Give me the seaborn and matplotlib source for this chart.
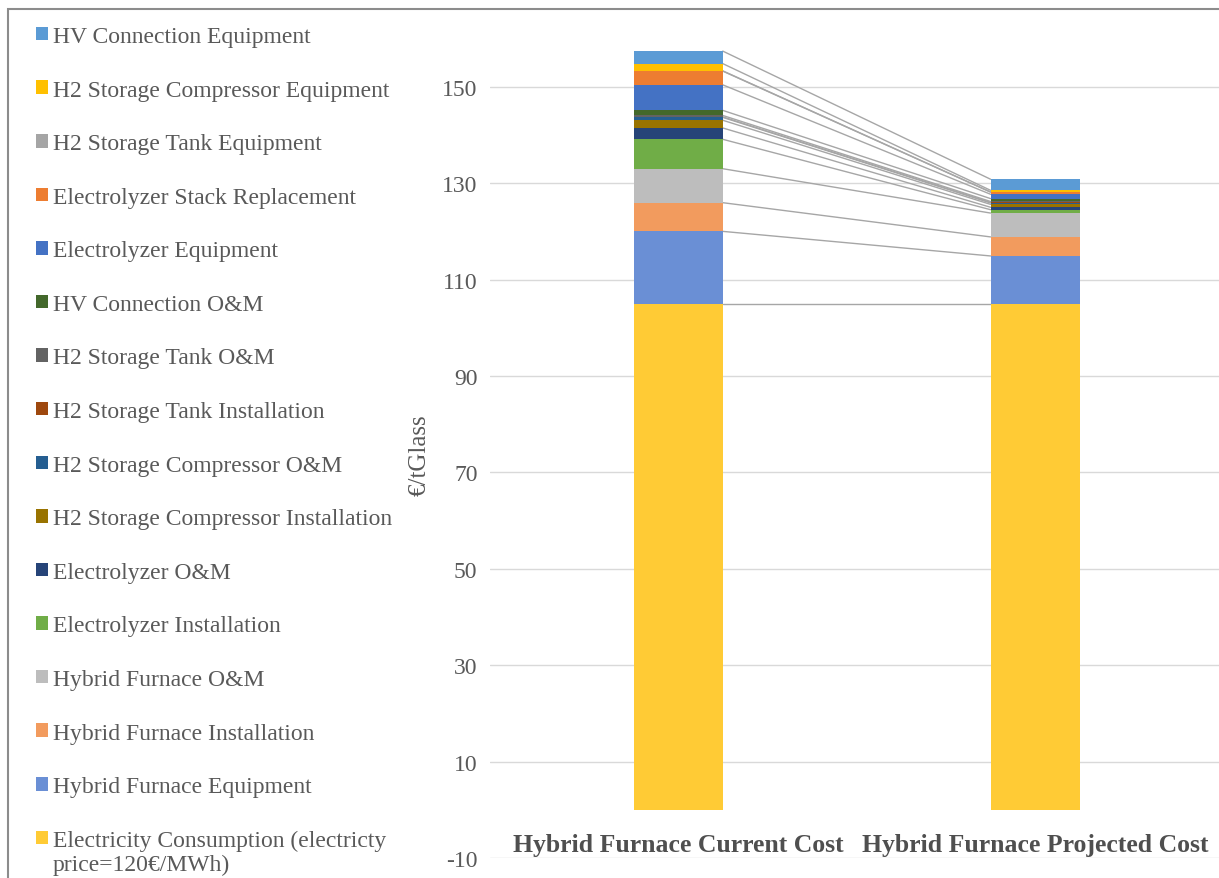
import matplotlib
matplotlib.use('Agg')
import matplotlib.pyplot as plt
from matplotlib.patches import Patch, Rectangle
import seaborn as sns
import numpy as np
import pandas as pd

# categories on the x axis
categories = ['Hybrid Furnace Current Cost', 'Hybrid Furnace Projected Cost']

# cost components, bottom of the stack first (€/tGlass)
electricity = [105.0, 105.0]
hf_equipment = [15.0, 9.9]
hf_installation = [5.95, 3.95]
hf_om = [7.05, 4.95]
el_installation = [6.1, 0.7]
el_om = [2.35, 0.5]
comp_installation = [1.6, 0.6]
comp_om = [0.6, 0.3]
tank_installation = [0.1, 0.1]
tank_om = [0.3, 0.2]
hv_om = [1.05, 0.6]
el_equipment = [5.3, 0.9]
stack_replacement = [2.85, 0.45]
tank_equipment = [0.05, 0.02]
comp_equipment = [1.5, 0.35]
hv_equipment = [2.6, 2.3]

series_names = [
    'Electricity Consumption (electricty\nprice=120€/MWh)',
    'Hybrid Furnace Equipment',
    'Hybrid Furnace Installation',
    'Hybrid Furnace O&M',
    'Electrolyzer Installation',
    'Electrolyzer O&M',
    'H2 Storage Compressor Installation',
    'H2 Storage Compressor O&M',
    'H2 Storage Tank Installation',
    'H2 Storage Tank O&M',
    'HV Connection O&M',
    'Electrolyzer Equipment',
    'Electrolyzer Stack Replacement',
    'H2 Storage Tank Equipment',
    'H2 Storage Compressor Equipment',
    'HV Connection Equipment',
]
series_values = [electricity, hf_equipment, hf_installation, hf_om, el_installation,
                 el_om, comp_installation, comp_om, tank_installation, tank_om, hv_om,
                 el_equipment, stack_replacement, tank_equipment, comp_equipment, hv_equipment]
series_colors = ['#FFCB35', '#6A8FD5', '#F29B5E', '#BDBDBD', '#70AD47',
                 '#264478', '#997300', '#255E91', '#9E480E', '#636363', '#43682B',
                 '#4472C4', '#ED7D31', '#A5A5A5', '#FFC000', '#5B9BD5']

yticks = [-10, 10, 30, 50, 70, 90, 110, 130, 150]

sns.set_theme(style='white')
plt.rcParams['font.family'] = ['Liberation Serif', 'DejaVu Serif']
plt.rcParams['axes.unicode_minus'] = False
text_color = '#595959'

fig = plt.figure(figsize=(12.19, 8.79), dpi=100)
ax = fig.add_axes([490 / 1219, 20 / 879, 729 / 1219, 858 / 879])

bar_w = 0.25
cum = np.cumsum(np.array(series_values), axis=0)

# stacked bars: draw cumulative totals from the top down so each layer covers the one above
for i in range(len(series_names) - 1, -1, -1):
    df = pd.DataFrame({'cat': categories, 'val': cum[i]})
    sns.barplot(data=df, x='cat', y='val', color=series_colors[i], width=bar_w,
                saturation=1, linewidth=0, ax=ax, zorder=3)

# series lines joining the segment tops
for i in range(len(series_names)):
    ax.plot([bar_w / 2, 1 - bar_w / 2], [cum[i][0], cum[i][1]],
            color='#A6A6A6', lw=1, zorder=2)

ax.set_xlim(-0.527, 1.515)
ax.set_ylim(-10, 168)
ax.set_yticks(yticks)
ax.yaxis.grid(True, color='#D9D9D9', lw=1)
ax.set_axisbelow(True)
for s in ax.spines.values():
    s.set_visible(False)

ax.spines['bottom'].set_position(('data', 0))
ax.tick_params(axis='y', length=0, pad=9, labelsize=17, labelcolor=text_color)
ax.tick_params(axis='x', length=0, pad=17)
ax.set_xticks([0, 1])
ax.set_xticklabels(categories, fontsize=18.5, fontweight='bold', color='#4F4F4F')
ax.set_xlabel('')
ax.set_ylabel('€/tGlass', fontsize=18, color=text_color)
ax.yaxis.set_label_coords(-0.081, 0.471)

handles = [Patch(facecolor=c, edgecolor='none') for c in series_colors]
leg = fig.legend(handles[::-1], series_names[::-1], loc='upper left',
                 bbox_to_anchor=(36 / 1219, 1 - 27 / 879), frameon=False,
                 fontsize=17, handlelength=0.5, handleheight=0.5, borderpad=0,
                 handletextpad=0.22, labelspacing=1.38, borderaxespad=0)
for t in leg.get_texts():
    t.set_color(text_color)
# put the two-line entry's square next to its first line
last = leg.legend_handles[-1]
last.set_y(last.get_y() + 10.5)

# outer chart frame
fig.patches.append(Rectangle((8 / 1219, -0.1), 2, 1 - 10 / 879 + 0.1,
                             transform=fig.transFigure, fill=False,
                             edgecolor='#8C8C8C', lw=1.5, zorder=0))

fig.savefig('out.png', dpi=100)
